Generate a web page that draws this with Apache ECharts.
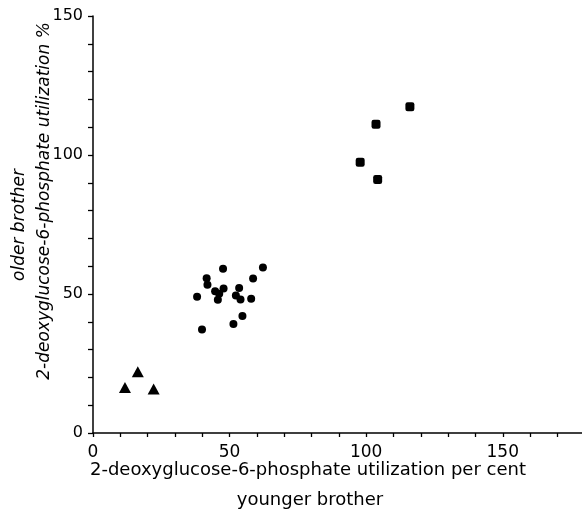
<!DOCTYPE html>
<html><head><meta charset="utf-8">
<script src="https://cdn.jsdelivr.net/npm/echarts@6/dist/echarts.min.js"></script>
<style>html,body{margin:0;padding:0;background:#fff}#c{width:582px;height:515px}</style>
</head><body><div id="c"></div>
<script>
// Data: [younger brother %, older brother %]
const triangles = [[16.4, 22.0], [11.7, 16.4], [22.2, 15.8]];
const circles = [
  [47.6, 59.1], [62.2, 59.5], [41.6, 55.7], [58.6, 55.6], [41.9, 53.3],
  [44.7, 51.0], [47.8, 52.0], [53.5, 52.2], [38.1, 49.0], [46.2, 50.1],
  [45.7, 47.9], [52.3, 49.5], [54.0, 48.0], [57.9, 48.3], [54.7, 42.1],
  [51.4, 39.2], [39.9, 37.2]
];
const squares = [[116.0, 117.4], [103.6, 111.1], [97.8, 97.4], [104.2, 91.2]];
const xTicks = [0, 10, 20, 30, 40, 50, 60, 70, 80, 90, 100, 110, 120, 130, 140, 150, 160, 170];
const xLabels = [0, 50, 100, 150];
const yTicks = [0, 10, 20, 30, 40, 50, 60, 70, 80, 90, 100, 110, 120, 130, 140, 150];
const yLabels = [0, 50, 100, 150];
const xTitle1 = '2-deoxyglucose-6-phosphate utilization per cent';
const xTitle2 = 'younger brother';
const yTitle1 = 'older brother';
const yTitle2 = '2-deoxyglucose-6-phosphate utilization %';

const font = 'DejaVu Sans';
const chart = echarts.init(document.getElementById('c'), null, {renderer: 'canvas'});
chart.setOption({
  animation: false,
  backgroundColor: '#fff',
  grid: {left: 93, right: 0, top: 16, bottom: 82, containLabel: false},
  xAxis: {
    type: 'value', min: 0, max: 179,
    axisLine: {show: true, lineStyle: {color: '#000', width: 1.5}},
    axisTick: {show: true, customValues: xTicks, length: 4, lineStyle: {color: '#000', width: 1.3}},
    axisLabel: {customValues: xLabels, margin: 11, fontSize: 17, color: '#000', fontFamily: font},
    splitLine: {show: false}
  },
  yAxis: {
    type: 'value', min: 0, max: 150,
    axisLine: {show: true, lineStyle: {color: '#000', width: 1.5}},
    axisTick: {show: true, customValues: yTicks, length: 5, lineStyle: {color: '#000', width: 1.3}},
    axisLabel: {customValues: yLabels, margin: 10, fontSize: 16, color: '#000', fontFamily: font},
    splitLine: {show: false}
  },
  graphic: [
    {type: 'text', x: 308, y: 470, style: {text: xTitle1, font: '18px "' + font + '"', fill: '#000', align: 'center', verticalAlign: 'middle'}},
    {type: 'text', x: 310, y: 500, style: {text: xTitle2, font: '18px "' + font + '"', fill: '#000', align: 'center', verticalAlign: 'middle'}},
    {type: 'text', x: 20, y: 225, rotation: Math.PI / 2, style: {text: yTitle1, font: 'italic 17px "' + font + '"', fill: '#000', align: 'center', verticalAlign: 'middle'}},
    {type: 'text', x: 45, y: 201, rotation: Math.PI / 2, style: {text: yTitle2, font: 'italic 17px "' + font + '"', fill: '#000', align: 'center', verticalAlign: 'middle'}}
  ],
  series: [
    {type: 'scatter', data: triangles, symbol: 'triangle', symbolSize: [12, 11], itemStyle: {color: '#000', opacity: 1}},
    {type: 'scatter', data: circles, symbol: 'circle', symbolSize: 8, itemStyle: {color: '#000', opacity: 1}},
    {type: 'scatter', data: squares, symbol: 'roundRect', symbolSize: 9, itemStyle: {color: '#000', opacity: 1}}
  ]
});
</script></body></html>
